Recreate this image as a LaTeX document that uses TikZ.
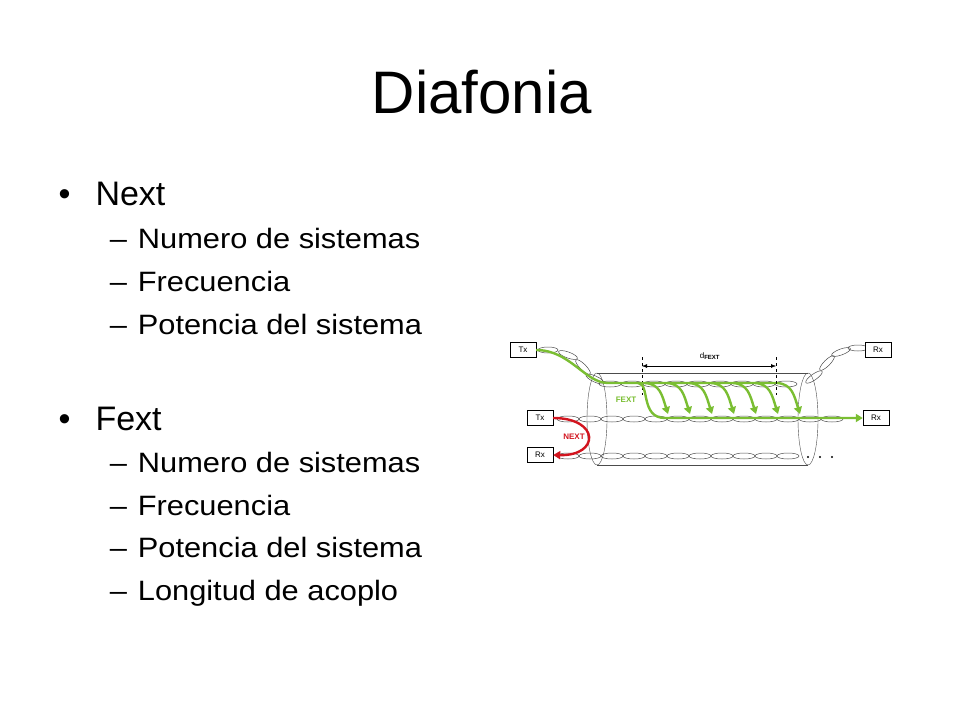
\documentclass[tikz,border=0pt]{standalone}
\usepackage{fontspec}
\setmainfont{Liberation Sans}
\usetikzlibrary{arrows.meta}
\definecolor{fextgreen}{RGB}{122,190,50}
\definecolor{nextred}{RGB}{210,20,30}
\tikzset{
  endbox/.style={draw, fill=white, minimum width=26pt, minimum height=15pt, inner sep=0pt, font=\fontsize{8}{8}\selectfont},
  twist/.style={draw=black!70, line width=0.5pt},
  greenflow/.style={draw=fextgreen, line width=2.4pt, -{Triangle[length=7pt,width=8pt]}},
  bulletline/.style={anchor=base west, font=\fontsize{34}{34}\selectfont},
  subline/.style={anchor=base west, font=\fontsize{28}{28}\selectfont, xscale=1.1}
}
\begin{document}
\begin{tikzpicture}[x=1pt, y=-1pt]
\useasboundingbox (0,0) rectangle (960,720);
% title and text
\node[font=\fontsize{60}{60}\selectfont] (title) at (482,92) {Diafonia};
\node[bulletline] (nextdot) at (55,205) {\textbullet};
\node[bulletline] (next) at (92,205) {Next};
\foreach \t [count=\i] in {Numero de sistemas, Frecuencia, Potencia del sistema}{
  \node[subline] (nd\i) at (106,{205+43*\i}) {--};
  \node[subline] (n\i) at (134,{205+43*\i}) {\t};}
\node[bulletline] (fextdot) at (55,430) {\textbullet};
\node[bulletline] (fext) at (92,430) {Fext};
\foreach \t [count=\i] in {Numero de sistemas, Frecuencia, Potencia del sistema, Longitud de acoplo}{
  \node[subline] (fd\i) at (106,{430+42.5*\i}) {--};
  \node[subline] (f\i) at (134,{430+42.5*\i}) {\t};}
% cable
\draw[black!70] (597,373) -- (808,373) (597,465) -- (808,465);
\draw[black!70] (597,419) ellipse (10pt and 46pt);
\draw[black!70] (808,419) ellipse (10pt and 46pt);
% twisted pairs
\foreach \x in {610,632,...,800}
  \draw[twist] (\x,384) ellipse (11pt and 3pt);
\foreach \x in {568,590,...,850}
  \draw[twist] (\x,419) ellipse (11pt and 3pt);
\foreach \x in {568,590,...,800}
  \draw[twist] (\x,456) ellipse (11pt and 3pt);
\foreach \x/\y/\r in {548/350/0,568/355/-20,583/367/-45,595/379/-25,814/377/35,827/363/45,841/352/20,858/348/0}
  \draw[twist, rotate around={\r:(\x,\y)}] (\x,\y) ellipse (10pt and 3pt);
% terminals
\node[endbox] (tx1) at (523,350) {Tx};
\node[endbox] (rx1) at (878,350) {Rx};
\node[endbox] (tx2) at (540,418) {Tx};
\node[endbox] (rx2) at (876,418) {Rx};
\node[endbox] (rx3) at (540,455) {Rx};
% d_FEXT
\draw[dashed] (642,357) -- (642,395) (776,357) -- (776,395);
\draw[{Latex[length=5pt]}-{Latex[length=5pt]}] (642,366) -- (776,366);
\node[font=\fontsize{8}{8}\selectfont] (dfext) at (710,356) {d\textsubscript{\textbf{FEXT}}};
% FEXT coupling
\draw[draw=fextgreen, line width=2.4pt] (tx1.east) .. controls (570,350) and (585,383) .. (608,383) -- (776,383);
\draw[greenflow] (638,383) .. controls (650,383) and (640,418) .. (665,418) -- (rx2.west);
\foreach \x in {0,...,6}
  \draw[greenflow] ({645+22*\x},383) .. controls ({660+22*\x},384) and ({662+22*\x},395) .. ({668+22*\x},414);
\node[font=\bfseries\fontsize{8}{8}\selectfont, text=fextgreen] (fextlabel) at (626,400) {FEXT};
% NEXT coupling
\draw[draw=nextred, line width=2.4pt, -{Triangle[length=7pt,width=8pt]}] (tx2.east) .. controls (600,418) and (600,456) .. (rx3.east);
\node[font=\bfseries\fontsize{8}{8}\selectfont, text=nextred] (nextlabel) at (574,437) {NEXT};
\foreach \x in {808,820,832}
  \fill (\x,457) circle (1.1pt);
\end{tikzpicture}
\end{document}
